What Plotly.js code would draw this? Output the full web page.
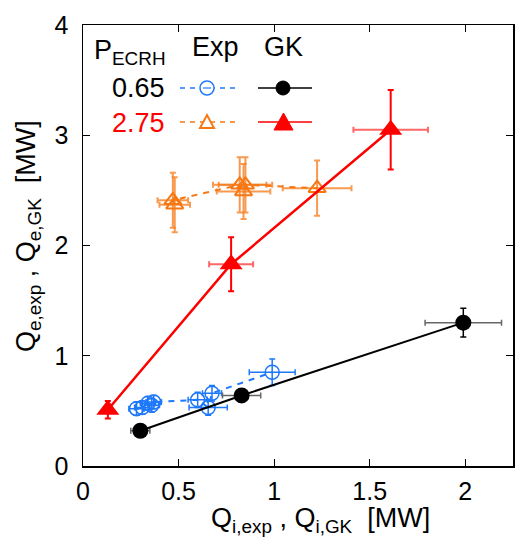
<!DOCTYPE html>
<html><head><meta charset="utf-8">
<script src="https://cdn.plot.ly/plotly-3.0.1.min.js"></script>
<style>html,body{margin:0;padding:0;background:#fff}#plot{width:517px;height:538px}</style>
</head><body><div id="plot"></div>
<script>
// Exp, P_ECRH = 0.65 MW (open blue circles)
const exp065_x  = [0.28, 0.31, 0.34, 0.36, 0.37, 0.60, 0.655, 0.675, 0.99];
const exp065_y  = [0.52, 0.53, 0.57, 0.55, 0.58, 0.60, 0.53, 0.66, 0.85];
const exp065_ex = [0.04, 0.04, 0.04, 0.04, 0.04, 0.05, 0.10, 0.05, 0.12];
const exp065_ey = [0.06, 0.06, 0.06, 0.06, 0.06, 0.07, 0.07, 0.07, 0.12];
// Exp, P_ECRH = 2.75 MW (open orange triangles)
const exp275_x  = [0.48, 0.47, 0.82, 0.84, 0.85, 1.225];
const exp275_y  = [2.37, 2.41, 2.55, 2.49, 2.55, 2.52];
const exp275_ex = [0.08, 0.08, 0.14, 0.14, 0.14, 0.18];
const exp275_ey = [0.25, 0.25, 0.25, 0.25, 0.25, 0.25];
// GK, P_ECRH = 0.65 MW (black circles)
const gk065_x  = [0.30, 0.83, 1.99];
const gk065_y  = [0.32, 0.64, 1.30];
const gk065_ex = [0.05, 0.10, 0.20];
const gk065_ey = [0.05, 0.06, 0.13];
// GK, P_ECRH = 2.75 MW (red triangles)
const gk275_x  = [0.13, 0.775, 1.61];
const gk275_y  = [0.51, 1.83, 3.05];
const gk275_ex = [0.00, 0.115, 0.195];
const gk275_ey = [0.08, 0.245, 0.36];
// Tick labels
const xTicks = [0, 0.5, 1, 1.5, 2];
const xTickText = ["0", "0.5", "1", "1.5", "2"];
const yTicks = [0, 1, 2, 3, 4];
const yTickText = ["0", "1", "2", "3", "4"];
const legendRows = ["0.65", "2.75"];
const xTitle = "Q<sub>i,exp</sub> , Q<sub>i,GK</sub>  [MW]";
const yTitle = "Q<sub>e,exp</sub> , Q<sub>e,GK</sub>  [MW]";

const BLUE = "rgb(30,120,250)";
const ORANGE = "rgb(245,120,20)";
const RED = "rgb(255,0,0)";
const FONT = "Liberation Sans, Arial, sans-serif";

const traces = [
  {x: exp065_x, y: exp065_y, mode: "lines+markers", type: "scatter",
   line: {color: BLUE, width: 2, dash: "6px,6px"},
   marker: {symbol: "circle-open", size: 14, color: BLUE, line: {width: 1.5, color: BLUE}},
   error_x: {type: "data", array: exp065_ex, color: BLUE, thickness: 1.5, width: 3},
   error_y: {type: "data", array: exp065_ey, color: BLUE, thickness: 1.5, width: 3}},
  {x: exp275_x, y: exp275_y, mode: "lines+markers", type: "scatter",
   line: {color: ORANGE, width: 2, dash: "6px,6px"},
   marker: {symbol: "triangle-up-open", size: 15, color: ORANGE, line: {width: 2, color: ORANGE}},
   error_x: {type: "data", array: exp275_ex, color: "rgba(245,120,20,0.75)", thickness: 2, width: 3},
   error_y: {type: "data", array: exp275_ey, color: "rgba(245,120,20,0.75)", thickness: 2, width: 3}},
  {x: gk065_x, y: gk065_y, mode: "lines+markers", type: "scatter",
   line: {color: "black", width: 2},
   marker: {symbol: "circle", size: 16, color: "black"},
   error_x: {type: "data", array: gk065_ex, color: "#666", thickness: 1.5, width: 3},
   error_y: {type: "data", array: gk065_ey, color: "black", thickness: 1.5, width: 3}},
  {x: gk275_x, y: gk275_y, mode: "lines+markers", type: "scatter",
   line: {color: RED, width: 2.5},
   marker: {symbol: "triangle-up", size: 20, color: RED},
   error_x: {type: "data", array: gk275_ex, color: "rgba(255,0,0,0.6)", thickness: 2, width: 3},
   error_y: {type: "data", array: gk275_ey, color: RED, thickness: 2, width: 3}}
];

// plot area in pixels: l=83, r=513, t=25, b=466
const L = 83, R = 513, T = 25, B = 466;
const px = v => (v - L) / (R - L);
const py = v => (B - v) / (B - T);

const shapes = [
  {type: "line", xref: "paper", yref: "paper", x0: px(180), x1: px(236), y0: py(88), y1: py(88),
   line: {color: BLUE, width: 1.5, dash: "5px,5px"}},
  {type: "circle", xref: "paper", yref: "paper", x0: px(200), x1: px(214), y0: py(81), y1: py(95),
   line: {color: BLUE, width: 1.5}, fillcolor: "white"},
  {type: "line", xref: "paper", yref: "paper", x0: px(203), x1: px(211), y0: py(88), y1: py(88),
   line: {color: BLUE, width: 1.2}},
  {type: "line", xref: "paper", yref: "paper", x0: px(258), x1: px(312), y0: py(88), y1: py(88),
   line: {color: "black", width: 1.5}},
  {type: "circle", xref: "paper", yref: "paper", x0: px(276), x1: px(290), y0: py(81), y1: py(95),
   line: {color: "black", width: 1}, fillcolor: "black"},
  {type: "line", xref: "paper", yref: "paper", x0: px(180), x1: px(236), y0: py(122), y1: py(122),
   line: {color: ORANGE, width: 1.5, dash: "5px,5px"}},
  {type: "path", xref: "paper", yref: "paper",
   path: `M ${px(200)},${py(128)} L ${px(214)},${py(128)} L ${px(207)},${py(115)} Z`,
   line: {color: ORANGE, width: 2}, fillcolor: "white"},
  {type: "line", xref: "paper", yref: "paper", x0: px(258), x1: px(312), y0: py(122), y1: py(122),
   line: {color: RED, width: 1.5}},
  {type: "path", xref: "paper", yref: "paper",
   path: `M ${px(274)},${py(130)} L ${px(293)},${py(130)} L ${px(283.5)},${py(113)} Z`,
   line: {color: RED, width: 1}, fillcolor: RED}
];

const LF = 27;
const annotations = [
  {xref: "paper", yref: "paper", x: px(92), y: py(52), xanchor: "left", yanchor: "middle",
   text: "P<sub>ECRH</sub>", showarrow: false, font: {family: FONT, size: LF, color: "black"}},
  {xref: "paper", yref: "paper", x: px(215), y: py(47), xanchor: "center", yanchor: "middle",
   text: "Exp", showarrow: false, font: {family: FONT, size: LF, color: "black"}},
  {xref: "paper", yref: "paper", x: px(283), y: py(47), xanchor: "center", yanchor: "middle",
   text: "GK", showarrow: false, font: {family: FONT, size: LF, color: "black"}},
  {xref: "paper", yref: "paper", x: px(167), y: py(88), xanchor: "right", yanchor: "middle",
   text: legendRows[0], showarrow: false, font: {family: FONT, size: LF, color: "black"}},
  {xref: "paper", yref: "paper", x: px(167), y: py(123), xanchor: "right", yanchor: "middle",
   text: legendRows[1], showarrow: false, font: {family: FONT, size: LF, color: RED}},
  // axis titles
  {xref: "paper", yref: "paper", x: px(320), y: py(520), xanchor: "center", yanchor: "middle",
   text: xTitle, showarrow: false, font: {family: FONT, size: 27, color: "black"}},
  {xref: "paper", yref: "paper", x: px(28), y: py(236), xanchor: "center", yanchor: "middle",
   textangle: -90, text: yTitle, showarrow: false, font: {family: FONT, size: 27, color: "black"}}
];

const axisCommon = {
  showgrid: false, zeroline: false, showline: true, linecolor: "black", linewidth: 1.5,
  mirror: "ticks", ticks: "inside", ticklen: 7, tickwidth: 1.2, tickcolor: "black",
  tickfont: {family: FONT, size: 25, color: "black"}
};

const layout = {
  width: 517, height: 538,
  margin: {l: L, r: 517 - R, t: T, b: 538 - B},
  paper_bgcolor: "white", plot_bgcolor: "white",
  showlegend: false,
  font: {family: FONT, color: "black"},
  xaxis: Object.assign({}, axisCommon, {
    range: [0, 2.25], tickvals: xTicks, ticktext: xTickText, ticklabelstandoff: 2
  }),
  yaxis: Object.assign({}, axisCommon, {
    range: [0, 4], tickvals: yTicks, ticktext: yTickText, ticklabelstandoff: 8
  }),
  shapes: shapes,
  annotations: annotations
};

Plotly.newPlot("plot", traces, layout, {displayModeBar: false, staticPlot: true});
</script></body></html>
